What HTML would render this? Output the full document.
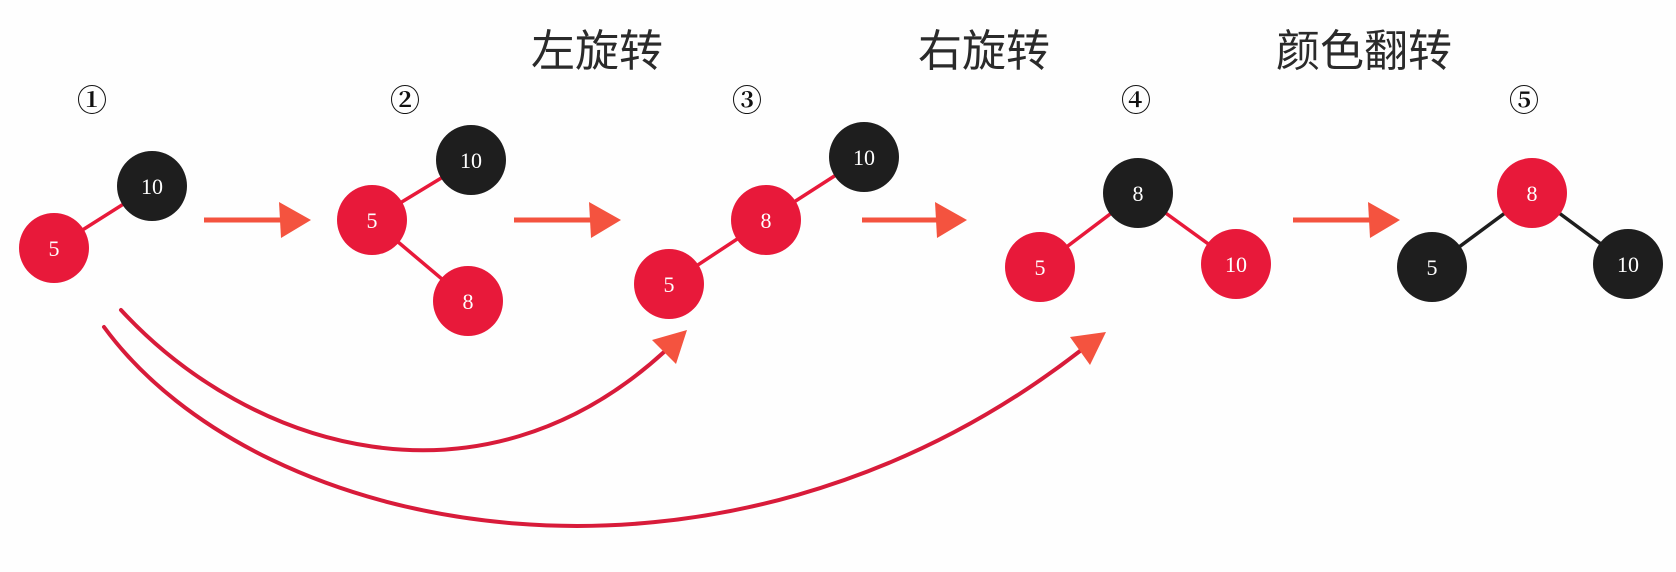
<!DOCTYPE html>
<html><head><meta charset="utf-8"><style>
html,body{margin:0;padding:0;background:#fefefe;}
svg{display:block;}
.t{font-family:"Liberation Sans","Noto Sans CJK SC",sans-serif;font-size:44px;fill:#2a2a2a;}
.n{font-family:"Liberation Serif","DejaVu Serif",serif;font-size:22px;fill:#fff;}
.c{font-family:"Liberation Serif","Noto Serif CJK SC","DejaVu Serif",serif;font-size:30px;fill:#111;font-weight:bold;}
</style></head><body>
<svg id="s" width="1676" height="572" viewBox="0 0 1676 572" xmlns="http://www.w3.org/2000/svg">
<text class="t" x="531" y="66">左旋转</text>
<text class="t" x="918" y="66">右旋转</text>
<text class="t" x="1276" y="66">颜色翻转</text>
<g id="g"></g>
</svg>
<script>
const stepLabels=["①","②","③","④","⑤"];
const stepX=[92,405,747,1136,1524];
const nodes=[
 {id:"s1-10",v:"10",c:"b",x:152,y:186},{id:"s1-5",v:"5",c:"r",x:54,y:248},
 {id:"s2-5",v:"5",c:"r",x:372,y:220},{id:"s2-10",v:"10",c:"b",x:471,y:160},{id:"s2-8",v:"8",c:"r",x:468,y:301},
 {id:"s3-10",v:"10",c:"b",x:864,y:157},{id:"s3-8",v:"8",c:"r",x:766,y:220},{id:"s3-5",v:"5",c:"r",x:669,y:284},
 {id:"s4-8",v:"8",c:"b",x:1138,y:193},{id:"s4-5",v:"5",c:"r",x:1040,y:267},{id:"s4-10",v:"10",c:"r",x:1236,y:264},
 {id:"s5-8",v:"8",c:"r",x:1532,y:193},{id:"s5-5",v:"5",c:"b",x:1432,y:267},{id:"s5-10",v:"10",c:"b",x:1628,y:264}
];
const edges=[["s1-10","s1-5","r"],["s2-5","s2-10","r"],["s2-5","s2-8","r"],["s3-10","s3-8","r"],["s3-8","s3-5","r"],
 ["s4-8","s4-5","r"],["s4-8","s4-10","r"],["s5-8","s5-5","b"],["s5-8","s5-10","b"]];
const arrowsX=[[204,311],[514,621],[862,967],[1293,1400]];
const arrowY=220;
const NS="http://www.w3.org/2000/svg";
const g=document.getElementById('g');
function mk(t,a){const e=document.createElementNS(NS,t);for(const k in a)e.setAttribute(k,a[k]);g.appendChild(e);return e;}
const col={r:"#e8193a",b:"#1e1e1e"};
const byId={};nodes.forEach(n=>byId[n.id]=n);
const curves=[
 {d:"M121,310 C250,450 480,520 664,352",head:"687,330 676,364 652,340"},
 {d:"M104,327 C260,540 720,630 1080,351",head:"1106,332 1090,365 1070,337"}
];
curves.forEach((c,i)=>{
 const p=mk('path',{d:c.d,fill:"none",stroke:"#d81b3a","stroke-width":4,"stroke-linecap":"round"});
 
 
 const h=mk('polygon',{points:c.head,fill:"#f4533f"});
 
 
});
arrowsX.forEach((a,i)=>{
 const l=mk('line',{x1:a[0],y1:arrowY,x2:a[1]-30,y2:arrowY,stroke:"#f4533f","stroke-width":5});
 
 
 const h=mk('polygon',{points:`${a[1]},${arrowY} ${a[1]-32},${arrowY-18} ${a[1]-30},${arrowY+18}`,fill:"#f4533f"});
 
 
});
edges.forEach(e=>{
 const a=byId[e[0]],b=byId[e[1]];
 const l=mk('line',{x1:a.x,y1:a.y,x2:b.x,y2:b.y,stroke:col[e[2]],"stroke-width":3.5});
 
 
});
nodes.forEach(n=>{
 const c=mk('circle',{cx:n.x,cy:n.y,r:35,fill:col[n.c]});
 
 
 const t=mk('text',{x:n.x,y:n.y+8,"text-anchor":"middle",class:"n"});
 t.textContent=n.v;
 
 
});
stepLabels.forEach((s,i)=>{
 const t=mk('text',{x:stepX[i],y:111,"text-anchor":"middle",class:"c"});
 t.textContent=s;
 
 
});
</script>
</body></html>
